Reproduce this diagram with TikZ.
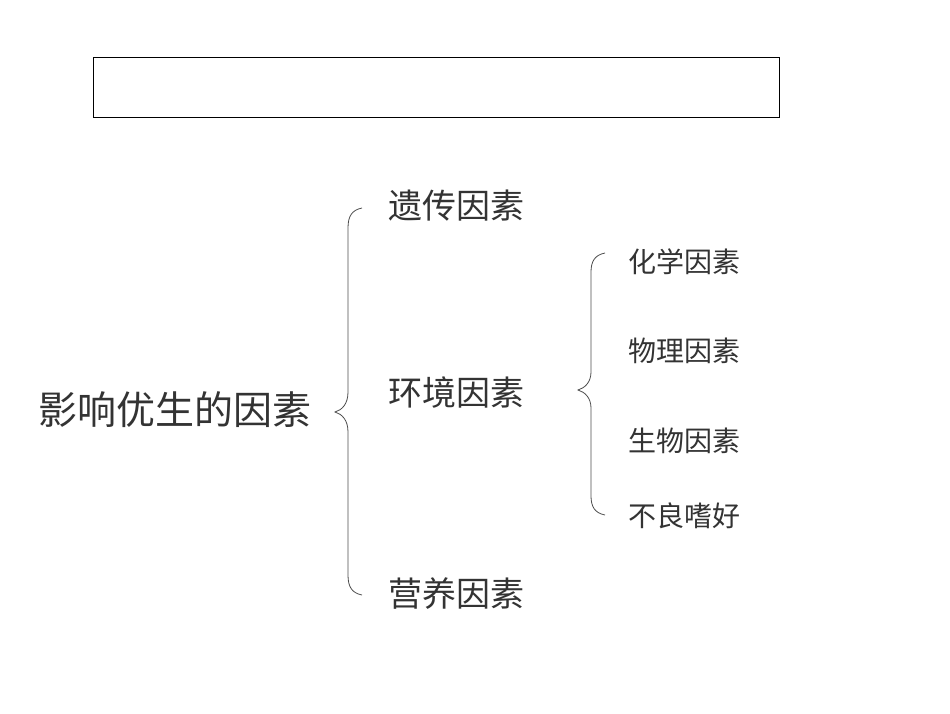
\documentclass[tikz,border=0pt]{standalone}
\usepackage{fontspec}
\newfontfamily\cjk{Noto Sans CJK SC}
\definecolor{txt}{HTML}{333333}
\begin{document}
\begin{tikzpicture}[x=1pt,y=-1pt,
  big/.style={font=\cjk\fontsize{39}{40}\selectfont,text=txt,inner sep=0pt},
  mid/.style={font=\cjk\fontsize{34}{36}\selectfont,text=txt,inner sep=0pt},
  small/.style={font=\cjk\fontsize{28}{30}\selectfont,text=txt,inner sep=0pt},
  brace/.style={draw=black!70,line width=0.8pt}]
\useasboundingbox (0,0) rectangle (950,713);
\node[draw=black,line width=0.8pt,minimum width=686pt,minimum height=60pt,inner sep=0pt] (box) at (436.5,87) {};
\node[big] (root) at (175,410) {影响优生的因素};
\node[mid,anchor=west] (a) at (388,206) {遗传因素};
\node[mid,anchor=west] (b) at (388,393) {环境因素};
\node[mid,anchor=west] (c) at (388,594) {营养因素};
\node[small,anchor=west] (b1) at (628,262) {化学因素};
\node[small,anchor=west] (b2) at (628,351) {物理因素};
\node[small,anchor=west] (b3) at (628,441) {生物因素};
\node[small,anchor=west] (b4) at (628,516) {不良嗜好};
\draw[brace] (362,208) .. controls (352,210) and (348,216) .. (348,228) -- (348,392)
  .. controls (348,404) and (342,410) .. (335,412)
  .. controls (342,414) and (348,420) .. (348,432) -- (348,575)
  .. controls (348,587) and (352,593) .. (362,595);
\draw[brace] (605,253) .. controls (595,255) and (591,261) .. (591,272) -- (591,372)
  .. controls (591,382) and (585,388) .. (578,390)
  .. controls (585,392) and (591,398) .. (591,408) -- (591,496)
  .. controls (591,507) and (595,513) .. (605,515);
\end{tikzpicture}
\end{document}
